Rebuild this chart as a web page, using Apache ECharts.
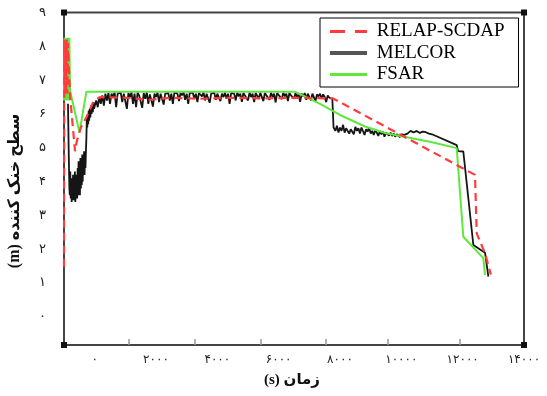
<!DOCTYPE html>
<html><head><meta charset="utf-8">
<script src="https://cdn.jsdelivr.net/npm/echarts@6/dist/echarts.min.js"></script>
<style>html,body{margin:0;padding:0;background:#fff}#c{width:547px;height:396px}</style>
</head><body><div id="c"></div>
<script>
// ---- data ----
const xTickLabels = [0, 2000, 4000, 6000, 8000, 10000, 12000, 14000];
const xTickMarks = [1100, 3250, 5400, 7550, 9550, 11900];
const yTickLabels = [0, 1, 2, 3, 4, 5, 6, 7, 8, 9];

const relapT = [-1000,-990,-970,-950,-930,-910,-890,-870,-800,-640,-580,-450,-260,-45,170,1000,1800,2500,3500,4500,5500,6500,7773,12403,12458,12729,12920];
const relapH = [1.48,8.2,6.6,8.2,6.6,8.2,6.6,8.1,6.5,4.9,5.2,5.6,5.92,6.36,6.5,6.48,6.42,6.48,6.45,6.48,6.46,6.48,6.46,4.2,2.47,1.88,1.25];

const fsarT = [-1000,-985,-965,-945,-925,-905,-885,-865,-845,-825,-805,-495,-270,6533,7348,8000,8816,9500,10935,11806,12021,12673,12729];
const fsarH = [6.4,8.25,6.4,8.25,6.4,8.25,6.4,8.25,6.4,8.25,6.7,5.45,6.66,6.66,6.3,5.97,5.63,5.43,5.18,4.99,2.37,1.74,1.24];

// MELCOR: early dip
const melcorEarlyT = [-870,-845,-825,-810,-795,-780,-765,-750,-735,-720,-705,-690,-675,-660,-645,-630,-615,-600,-585,-570,-555,-540,-525,-510,-495,-480,-465,-450,-435,-420,-405,-390,-375,-360,-345,-330,-315,-300,-285,-270,-255,-240,-225,-210,-195,-180,-160,-140,-120,-100,-80,-60,-40,-20];
const melcorEarlyH = [6.3,4.8,3.8,3.6,4.3,3.5,4.1,3.4,4.0,3.55,4.2,3.45,3.9,3.6,4.3,3.4,3.8,3.55,4.2,3.5,4.4,3.6,4.6,3.7,4.5,3.6,4.7,3.8,4.6,3.9,4.8,4.0,4.7,4.3,4.9,4.2,4.8,4.4,4.9,5.3,5.9,5.6,6.0,5.7,6.1,5.8,6.15,5.9,6.25,6.0,6.3,6.05,6.35,6.15];
// MELCOR: plateau, 0 .. 7750 every 50 s
const melcorPlateauT = [0,50,100,150,200,250,300,350,400,450,500,550,600,650,700,750,800,850,900,950,1000,1050,1100,1150,1200,1250,1300,1350,1400,1450,1500,1550,1600,1650,1700,1750,1800,1850,1900,1950,2000,2050,2100,2150,2200,2250,2300,2350,2400,2450,2500,2550,2600,2650,2700,2750,2800,2850,2900,2950,3000,3050,3100,3150,3200,3250,3300,3350,3400,3450,3500,3550,3600,3650,3700,3750,3800,3850,3900,3950,4000,4050,4100,4150,4200,4250,4300,4350,4400,4450,4500,4550,4600,4650,4700,4750,4800,4850,4900,4950,5000,5050,5100,5150,5200,5250,5300,5350,5400,5450,5500,5550,5600,5650,5700,5750,5800,5850,5900,5950,6000,6050,6100,6150,6200,6250,6300,6350,6400,6450,6500,6550,6600,6650,6700,6750,6800,6850,6900,6950,7000,7050,7100,7150,7200,7250,7300,7350,7400,7450,7500,7550,7600,7650,7700,7750,7780];
const melcorPlateauH = [6.1,6.4,6.2,6.5,6.3,6.55,6.25,6.6,6.4,6.62,6.3,6.6,6.5,6.64,6.2,6.6,6.55,6.63,6.35,6.6,6.58,6.15,6.62,6.5,6.64,6.3,6.6,6.2,6.63,6.55,6.6,6.18,6.62,6.45,6.64,6.3,6.58,6.62,6.22,6.6,6.5,6.63,6.35,6.6,6.64,6.28,6.6,6.55,6.62,6.4,6.6,6.3,6.63,6.58,6.6,6.38,6.62,6.55,6.64,6.42,6.6,6.3,6.62,6.57,6.63,6.45,6.6,6.35,6.62,6.6,6.52,6.64,6.4,6.6,6.62,6.33,6.6,6.55,6.63,6.42,6.6,6.62,6.38,6.6,6.5,6.63,6.45,6.6,6.3,6.62,6.58,6.6,6.4,6.63,6.52,6.6,6.36,6.62,6.55,6.6,6.4,6.63,6.5,6.6,6.35,6.62,6.57,6.45,6.63,6.6,6.38,6.62,6.55,6.6,6.42,6.63,6.5,6.6,6.34,6.62,6.56,6.6,6.44,6.63,6.52,6.6,6.38,6.62,6.55,6.6,6.45,6.62,6.5,6.58,6.36,6.6,6.52,6.62,6.42,6.6,6.55,6.4,6.6,6.62,6.38,6.58,6.52,6.6,6.45,6.58,6.5,6.35,6.55,6.48,6.52,6.45,6.42];
// MELCOR: after the drop
const melcorLateT = [7790,7850,7900,7950,8000,8050,8100,8150,8200,8250,8300,8350,8400,8450,8500,8550,8600,8650,8700,8750,8800,8850,8900,8950,9000,9050,9100,9150,9200,9250,9300,9350,9400,9450,9500,9550,9600,9650,9700,9750,9800,9850,9900,9950,10000,10100,10200,10300,10400,10500,10600,10700,10800,10900,11000,11806,11850,12021,12348,12729,12838];
const melcorLateH = [5.6,5.5,5.65,5.45,5.6,5.5,5.68,5.45,5.58,5.62,5.42,5.55,5.6,5.4,5.62,5.5,5.58,5.42,5.6,5.55,5.38,5.55,5.48,5.6,5.42,5.5,5.38,5.52,5.45,5.35,5.5,5.4,5.48,5.33,5.45,5.4,5.36,5.45,5.35,5.42,5.33,5.4,5.38,5.32,5.4,5.38,5.42,5.5,5.45,5.5,5.44,5.48,5.46,5.42,5.4,5.08,4.9,4.89,2.13,1.9,1.19];

const seriesNames = ['RELAP-SCDAP', 'MELCOR', 'FSAR'];
const xTitle = '(s) زمان';
const yTitle = '(m) سطح خنک کننده';

// ---- helpers ----
const fa = '۰۱۲۳۴۵۶۷۸۹';
const toFa = v => String(v).replace(/[0-9]/g, d => fa[+d]);
const pairs = (t, h) => t.map((x, i) => [x, h[i]]);
const melcorData = pairs(melcorEarlyT, melcorEarlyH).concat(pairs(melcorPlateauT, melcorPlateauH), pairs(melcorLateT, melcorLateH));

const G = {left: 64, right: 23, top: 12.5, bottom: 51};
const W = 547, H = 396;

const chart = echarts.init(document.getElementById('c'), null, {renderer: 'canvas'});
const corner = (x, y) => ({type: 'rect', shape: {x: x - 3, y: y - 3, width: 6, height: 6}, style: {fill: '#111'}, z: 100});
chart.setOption({
  animation: false,
  backgroundColor: '#fff',
  grid: {left: G.left, right: G.right, top: G.top, bottom: G.bottom, show: true, borderColor: '#444', borderWidth: 2, backgroundColor: 'transparent'},
  xAxis: {
    type: 'value', min: -1000, max: 14000,
    axisLine: {show: false, onZero: false},
    splitLine: {show: false},
    axisTick: {show: true, inside: true, length: 6, customValues: xTickMarks, lineStyle: {color: '#999', width: 1.5}},
    axisLabel: {customValues: xTickLabels, formatter: v => toFa(v), margin: 9, fontSize: 12, color: '#222', fontFamily: 'DejaVu Sans'}
  },
  yAxis: {
    type: 'value', min: -0.83, max: 9,
    axisLine: {show: false, onZero: false},
    splitLine: {show: false},
    axisTick: {show: false},
    axisLabel: {customValues: yTickLabels, formatter: v => toFa(v), margin: 18, fontSize: 13, color: '#222', fontFamily: 'DejaVu Sans'}
  },
  legend: {
    orient: 'vertical', left: 320, top: 18,
    backgroundColor: '#fff', borderColor: '#000', borderWidth: 1,
    padding: [4, 14, 3, 8],
    itemWidth: 37, itemHeight: 14, itemGap: 2.5,
    itemStyle: {opacity: 0},
    formatter: n => ' ' + n,
    textStyle: {fontFamily: 'Liberation Serif', fontSize: 19, color: '#000'},
    data: [
      {name: seriesNames[0], lineStyle: {type: [15, 10], width: 3}},
      {name: seriesNames[1], lineStyle: {color: '#555', width: 4}},
      {name: seriesNames[2], lineStyle: {width: 3}}
    ]
  },
  series: [
    {name: seriesNames[1], type: 'line', symbol: 'none', data: melcorData, lineStyle: {color: '#151515', width: 1.8}, itemStyle: {color: '#151515'}, z: 2},
    {name: seriesNames[2], type: 'line', symbol: 'none', data: pairs(fsarT, fsarH), lineStyle: {color: '#5ee83c', width: 2}, itemStyle: {color: '#5ee83c'}, z: 3},
    {name: seriesNames[0], type: 'line', symbol: 'none', data: pairs(relapT, relapH), lineStyle: {color: '#ff3b3b', width: 2.2, type: [8, 5]}, itemStyle: {color: '#ff3b3b'}, z: 4}
  ],
  graphic: [
    corner(G.left, G.top), corner(G.left, H - G.bottom), corner(W - G.right, H - G.bottom), corner(W - G.right, G.top),
    {type: 'text', x: 292, y: 380, style: {text: xTitle, font: 'bold 15px "Liberation Serif", "DejaVu Sans"', fill: '#111', align: 'center', verticalAlign: 'middle'}},
    {type: 'text', x: 15, y: 191, rotation: Math.PI / 2, style: {text: yTitle, font: 'bold 16px "Liberation Serif", "DejaVu Sans"', fill: '#111', align: 'center', verticalAlign: 'middle'}}
  ]
});
</script></body></html>
